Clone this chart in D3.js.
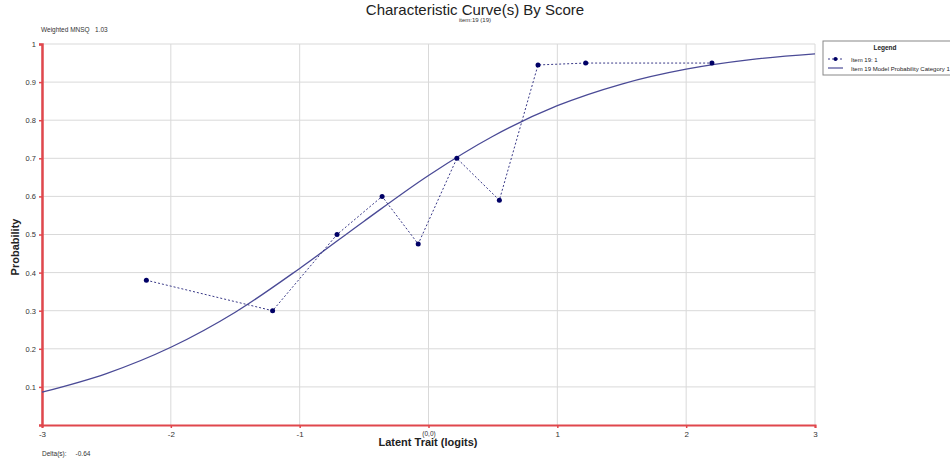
<!DOCTYPE html>
<html>
<head>
<meta charset="utf-8">
<script src="https://cdn.jsdelivr.net/npm/d3@7"></script>
<style>
  body { margin: 0; background: #fff; }
  svg { font-family: "Liberation Sans", Arial, sans-serif; display: block; }
  .pre { white-space: pre; }
</style>
</head>
<body>
<script>
// observed points (item 19, score 1)
const obsTheta = [-2.19, -1.21, -0.71, -0.36, -0.08, 0.22, 0.55, 0.85, 1.22, 2.20]
const obsProb  = [0.38, 0.30, 0.50, 0.60, 0.475, 0.70, 0.59, 0.945, 0.95, 0.95]

// model curve
const curveTheta = [-3, -2.5, -2, -1.5, -1, -0.5, 0, 0.5, 1, 1.5, 2, 2.5, 3]
const curveProb  = [0.086, 0.135, 0.204, 0.296, 0.411, 0.535, 0.655, 0.758, 0.838, 0.895, 0.934, 0.959, 0.974]

const xTicks = [-3, -2, -1, 0, 1, 2, 3]
const xTickLabels = ["-3", "-2", "-1", "(0,0)", "1", "2", "3"]
const yTicks = [0.1, 0.2, 0.3, 0.4, 0.5, 0.6, 0.7, 0.8, 0.9, 1]

const width = 950, height = 458
const x0 = 42, x1 = 815, yTop = 44, yBot = 425

const svg = d3.select("body").append("svg")
    .attr("width", width)
    .attr("height", height)

const x = d3.scaleLinear().domain([-3, 3]).range([x0, x1])
const y = d3.scaleLinear().domain([0, 1]).range([yBot, yTop])

// grid
const grid = svg.append("g")
grid.selectAll(".gx").data(xTicks).join("line")
    .attr("x1", d => x(d)).attr("x2", d => x(d))
    .attr("y1", yTop).attr("y2", yBot)
    .attr("stroke", "#d9d9d9").attr("stroke-width", 1)
grid.selectAll(".gy").data(yTicks).join("line")
    .attr("x1", x0).attr("x2", x1)
    .attr("y1", d => y(d)).attr("y2", d => y(d))
    .attr("stroke", "#d9d9d9").attr("stroke-width", 1)

// axes
const xAxis = svg.append("g")
    .attr("transform", `translate(0,${yBot})`)
    .call(d3.axisBottom(x).tickValues(xTicks).tickSize(3).tickFormat((d, i) => xTickLabels[i]))
xAxis.select(".domain").attr("stroke", "#e0474c").attr("stroke-width", 2)
xAxis.selectAll(".tick line").attr("stroke", "#e0474c").attr("stroke-width", 1.5)
xAxis.selectAll(".tick text")
    .attr("fill", "#333").attr("dy", "0.8em")
    .attr("font-size", (d, i) => i == 3 ? 6.5 : 8)

const yAxis = svg.append("g")
    .attr("transform", `translate(${x0},0)`)
    .call(d3.axisLeft(y).tickValues(yTicks).tickSize(3).tickFormat(d3.format("")))
yAxis.select(".domain").attr("stroke", "#e0474c").attr("stroke-width", 2.5)
yAxis.selectAll(".tick line").attr("stroke", "#e0474c").attr("stroke-width", 1.5)
yAxis.selectAll(".tick text").attr("font-size", 7.5).attr("fill", "#333")

// model curve
const curve = curveTheta.map((t, i) => [t, curveProb[i]])
svg.append("path")
    .datum(curve)
    .attr("fill", "none")
    .attr("stroke", "#4a4a96")
    .attr("stroke-width", 1.3)
    .attr("d", d3.line().x(d => x(d[0])).y(d => y(d[1])).curve(d3.curveMonotoneX))

// observed
const obs = obsTheta.map((t, i) => [t, obsProb[i]])
svg.append("path")
    .datum(obs)
    .attr("fill", "none")
    .attr("stroke", "#3a3a88")
    .attr("stroke-width", 1)
    .attr("stroke-dasharray", "2,2")
    .attr("d", d3.line().x(d => x(d[0])).y(d => y(d[1])))
svg.selectAll(".pt").data(obs).join("circle")
    .attr("cx", d => x(d[0])).attr("cy", d => y(d[1]))
    .attr("r", 2.5).attr("fill", "#000066")

// titles
svg.append("text").attr("x", 475).attr("y", 15).attr("text-anchor", "middle")
    .attr("font-size", 15).attr("fill", "#222").text("Characteristic Curve(s) By Score")
svg.append("text").attr("x", 475).attr("y", 22).attr("text-anchor", "middle")
    .attr("font-size", 6).attr("fill", "#333").text("item:19 (19)")
svg.append("text").attr("class", "pre").attr("x", 41).attr("y", 32)
    .attr("font-size", 6.5).attr("fill", "#333").text("Weighted MNSQ   1.03")
svg.append("text").attr("class", "pre").attr("x", 42).attr("y", 456)
    .attr("font-size", 6.5).attr("fill", "#333").text("Delta(s):     -0.64")
svg.append("text").attr("x", 428).attr("y", 446).attr("text-anchor", "middle")
    .attr("font-size", 11).attr("font-weight", "bold").attr("fill", "#222").text("Latent Trait (logits)")
svg.append("text").attr("transform", "translate(19,247) rotate(-90)").attr("text-anchor", "middle")
    .attr("font-size", 11).attr("font-weight", "bold").attr("fill", "#222").text("Probability")

// legend
const lg = svg.append("g").attr("transform", "translate(823,41)")
lg.append("rect").attr("x", 0).attr("y", 0).attr("width", 140).attr("height", 34)
    .attr("fill", "#fff").attr("stroke", "#888").attr("stroke-width", 1)
lg.append("text").attr("x", 62).attr("y", 9).attr("text-anchor", "middle")
    .attr("font-size", 6.5).attr("font-weight", "bold").attr("fill", "#222").text("Legend")
lg.append("line").attr("x1", 5).attr("x2", 20).attr("y1", 18).attr("y2", 18)
    .attr("stroke", "#3a3a88").attr("stroke-dasharray", "2,2")
lg.append("circle").attr("cx", 12.5).attr("cy", 18).attr("r", 2).attr("fill", "#000066")
lg.append("text").attr("x", 28).attr("y", 20.5).attr("font-size", 6).attr("fill", "#222").text("Item 19: 1")
lg.append("line").attr("x1", 5).attr("x2", 20).attr("y1", 27).attr("y2", 27)
    .attr("stroke", "#4a4a96").attr("stroke-width", 1.2)
lg.append("text").attr("x", 28).attr("y", 29.5).attr("font-size", 6).attr("fill", "#222").text("Item 19 Model Probability Category 1")
</script>
</body>
</html>
